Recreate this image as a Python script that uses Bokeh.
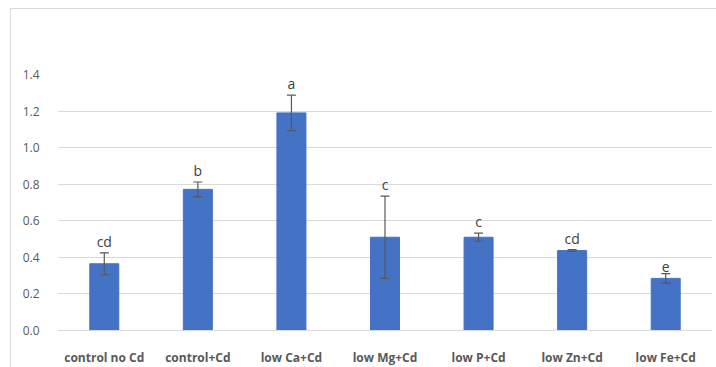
from bokeh.plotting import figure
from bokeh.models import ColumnDataSource, Whisker, TeeHead, Range1d, FactorRange, NumeralTickFormatter, LabelSet, Label
from bokeh.core.properties import value
from bokeh.embed import file_html
from bokeh.resources import INLINE

title_text = "Cd (mg kg⁻¹)"
categories = ["control no Cd", "control+Cd", "low Ca+Cd", "low Mg+Cd", "low P+Cd", "low Zn+Cd", "low Fe+Cd"]
values = [0.365, 0.772, 1.19, 0.51, 0.51, 0.437, 0.285]
errors = [0.06, 0.04, 0.097, 0.225, 0.022, 0.005, 0.026]
letters = ["cd", "b", "a", "c", "c", "cd", "e"]

upper = [v + e for v, e in zip(values, errors)]
lower = [v - e for v, e in zip(values, errors)]
src = ColumnDataSource(dict(x=categories, top=values, upper=upper, lower=lower, letter=letters))

p = figure(width=706, height=359, x_range=FactorRange(*categories), y_range=Range1d(0, 1.4),
           output_backend="svg", toolbar_location=None,
           min_border_left=46, min_border_right=5, min_border_top=65, min_border_bottom=36)
p.margin = (8, 0, 0, 10)
p.styles = {"border-top": "1px solid #d9d9d9", "border-left": "1px solid #d9d9d9"}
p.outline_line_color = None
p.background_fill_color = "white"
p.border_fill_color = "white"

title = Label(x=313, y=293, x_units="screen", y_units="screen", text=title_text, text_align="center",
              text_baseline="middle", text_font="Open Sans", text_font_size="20px",
              text_font_style="bold", text_color="#595959")
p.add_layout(title)

p.vbar(x="x", top="top", width=0.31, source=src, fill_color="#4472C4", line_color="#4472C4")

w = Whisker(base="x", upper="upper", lower="lower", source=src, line_color="#595959", line_width=1.2,
            level="overlay",
            upper_head=TeeHead(size=9, line_color="#595959", line_width=1.2),
            lower_head=TeeHead(size=9, line_color="#595959", line_width=1.2))
p.add_layout(w)

labels = LabelSet(x="x", y="upper", text="letter", source=src, text_align="center", text_baseline="bottom",
                  y_offset=2, text_font=value("Open Sans"), text_font_size="14px", text_color="#404040")
p.add_layout(labels)

p.ygrid.grid_line_color = "#d9d9d9"
p.xgrid.grid_line_color = None
p.yaxis.ticker = [0, 0.2, 0.4, 0.6, 0.8, 1.0, 1.2, 1.4]
p.yaxis.formatter = NumeralTickFormatter(format="0.0")
p.yaxis.axis_line_color = None
p.yaxis.major_tick_line_color = None
p.yaxis.minor_tick_line_color = None
p.yaxis.major_label_text_font = "Open Sans"
p.yaxis.major_label_text_font_size = "12px"
p.yaxis.major_label_text_color = "#595959"
p.yaxis.major_label_standoff = 12

p.xaxis.axis_line_color = "#d9d9d9"
p.xaxis.major_tick_line_color = None
p.xaxis.minor_tick_line_color = None
p.xaxis.major_label_text_font = "Open Sans"
p.xaxis.major_label_text_font_size = "12px"
p.xaxis.major_label_text_font_style = "bold"
p.xaxis.major_label_text_color = "#595959"
p.xaxis.major_label_standoff = 12

open("out.html", "w").write(file_html(p, INLINE))
